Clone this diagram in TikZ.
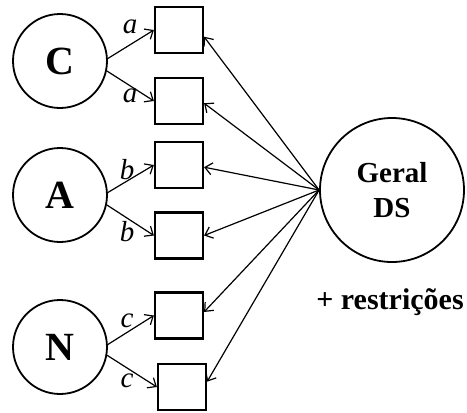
\documentclass[tikz,border=0pt]{standalone}
\usepackage{fontspec}
\setmainfont{Liberation Serif}
\usetikzlibrary{arrows.meta}
\begin{document}
\begin{tikzpicture}[x=1pt,y=-1pt,
  group/.style={circle,draw,line width=1.8pt,minimum size=94pt,inner sep=0pt,
    font=\bfseries\fontsize{40}{44}\selectfont},
  general/.style={circle,draw,line width=1.8pt,minimum size=144pt,inner sep=0pt,
    align=center,font=\bfseries\fontsize{29}{35}\selectfont},
  slot/.style={rectangle,draw,line width=2.2pt,minimum width=48pt,minimum height=46pt,inner sep=0pt},
  link/.style={line width=1.2pt,-{Straight Barb[length=7pt,width=12pt,line width=1.2pt]}},
  lbl/.style={inner sep=0pt,font=\itshape\fontsize{29}{31}\selectfont}]
\useasboundingbox (0,0) rectangle (467,413);

% groups on the left
\node[group] (C) at (60,61) {C};
\node[group] (A) at (60,195) {A};
\node[group] (N) at (60,347) {N};

% general node on the right
\node[general] (G) at (392,190) {Geral\\DS};
\node[inner sep=0pt,font=\bfseries\fontsize{30}{34}\selectfont] (R) at (390,302) {+ restrições};

% slots
\node[slot] (b1) at (179,30) {};
\node[slot] (b2) at (179,101) {};
\node[slot] (b3) at (179,165) {};
\node[slot] (b4) at (179,235.5) {};
\node[slot] (b5) at (179,315.5) {};
\node[slot] (b6) at (182,387) {};

% links from groups to slots
\draw[link] (C.3) -- (b1.west);
\draw[link] (C.-12) -- (b2.west);
\draw[link] (A.3) -- (b3.west);
\draw[link] (A.-12) -- (b4.west);
\draw[link] (N.3) -- (b5.west);
\draw[link] (N.-10) -- (b6.west);

% link labels
\node[lbl] (la1) at (130,27) {a};
\node[lbl] (la2) at (130,96) {a};
\node[lbl] (lb1) at (127,170) {b};
\node[lbl] (lb2) at (127,232) {b};
\node[lbl] (lc1) at (127,321) {c};
\node[lbl] (lc2) at (127,381) {c};

% links from the general node to the slots
\draw[link] (G.west) -- (b1.-15);
\draw[link] (G.west) -- (b2.-5);
\draw[link] (G.west) -- (b3.-5);
\draw[link] (G.west) -- (b4.east);
\draw[link] (G.west) -- (b5.8);
\draw[link] (G.west) -- (b6.12);
\end{tikzpicture}
\end{document}
